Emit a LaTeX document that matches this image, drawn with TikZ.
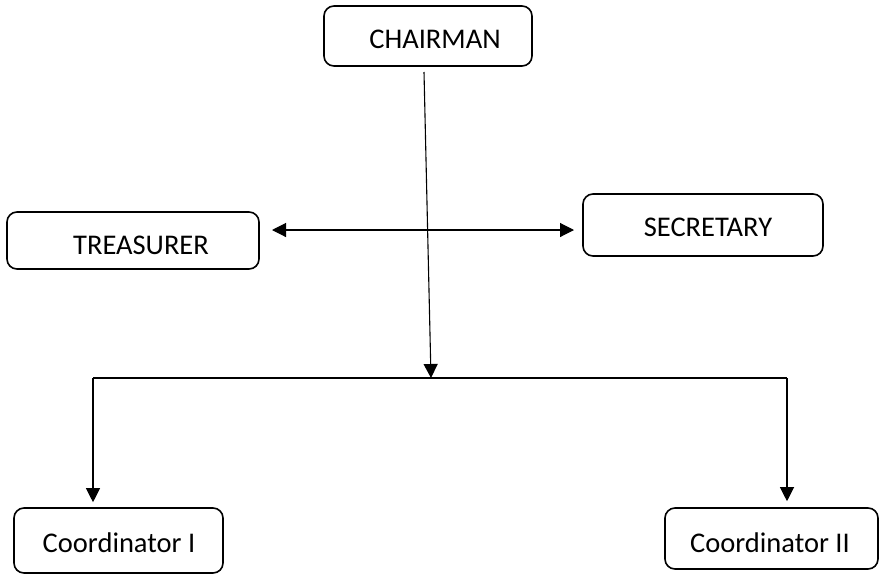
\documentclass[tikz,border=0pt]{standalone}
\usepackage{fontspec}
\setmainfont{Carlito}
\usetikzlibrary{arrows.meta,calc}
\begin{document}
\begin{tikzpicture}[x=1pt,y=1pt,
  box/.style={draw=black, line width=1.6pt, rounded corners=10pt, fill=white, inner sep=0pt},
  lbl/.style={inner sep=0pt, font=\fontsize{28.5}{34}\selectfont},
  conn/.style={draw=black, line width=1.1pt},
  arr/.style={conn, -{Triangle[length=14pt,width=14pt]}},
  darr/.style={conn, {Triangle[length=14pt,width=14pt]}-{Triangle[length=14pt,width=14pt]}}]
\useasboundingbox[fill=white] (0,0) rectangle (886,-576);
% boxes
\node[box, minimum width=208pt, minimum height=60pt] (ch) at (428,-36) {};
\node[box, minimum width=252pt, minimum height=57pt] (tr) at (133,-240.5) {};
\node[box, minimum width=240pt, minimum height=62pt] (se) at (703,-225) {};
\node[box, minimum width=209pt, minimum height=65pt] (c1) at (118.5,-540.5) {};
\node[box, minimum width=213pt, minimum height=61pt] (c2) at (771.5,-538.5) {};
% texts
\node[lbl] (chT) at (435,-39) {CHAIRMAN};
\node[lbl] (trT) at (141,-245) {TREASURER};
\node[lbl] (seT) at (708,-227) {SECRETARY};
\node[lbl] (c1T) at (119,-543) {Coordinator I};
\node[lbl] (c2T) at (770,-543) {Coordinator II};
% connector points
\coordinate (chout) at (424,-72);
\coordinate (jn) at (431,-378);
\coordinate (bl) at (93,-378);
\coordinate (br) at (787,-378);
\coordinate (tl) at (272,-230);
\coordinate (sr) at (574,-230);
% connectors
\draw[arr] (chout) -- (jn);
\draw[darr] (tl) -- (sr);
\draw[conn] (bl) -- (br);
\draw[arr, shorten >=5pt] (bl) -- (bl |- c1.north);
\draw[arr, shorten >=6pt] (br) -- (br |- c2.north);
\end{tikzpicture}
\end{document}
